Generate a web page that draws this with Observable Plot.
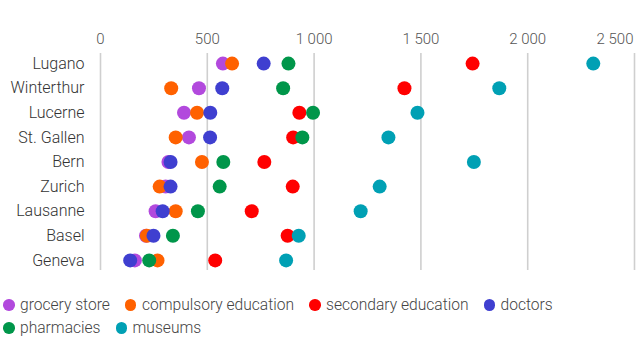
<!DOCTYPE html>
<html>
<head>
<meta charset="utf-8">
<script src="https://cdn.jsdelivr.net/npm/d3@7"></script>
<script src="https://cdn.jsdelivr.net/npm/@observablehq/plot@0.6"></script>
<style>
  html, body { margin: 0; padding: 0; background: #fff; }
  body { width: 638px; height: 338px; overflow: hidden; font-family: Roboto, "Noto Sans", sans-serif; }
  #legend { display: flex; flex-wrap: wrap; width: 620px; padding: 15px 0 0 3px; font-size: 15.6px; font-weight: 300; color: #444; row-gap: 3px; }
  .item { display: flex; align-items: center; margin-right: 15px; height: 20px; }
  .sw { width: 11.5px; height: 11.5px; border-radius: 50%; margin-right: 5.5px; }
</style>
</head>
<body>
<div id="chart"></div>
<div id="legend"></div>
<script>
// Cities, top to bottom
const cities = ["Lugano", "Winterthur", "Lucerne", "St. Gallen", "Bern", "Zurich", "Lausanne", "Basel", "Geneva"];

// Amenity categories (also drawing order) and their colours
const categories = ["grocery store", "compulsory education", "secondary education", "doctors", "pharmacies", "museums"];
const colors = ["#b249dd", "#ff6100", "#ff0000", "#3f3fd0", "#00964a", "#00a0b4"];

// Values per category, in the order of `cities`
const grocery    = [573, 461, 391, 414, 318, 305, 258, 213, 161];
const compulsory = [616, 331, 452, 352, 475, 277, 352, 217, 267];
const secondary  = [1742, 1423, 931, 902, 767, 900, 708, 876, 537];
const doctors    = [764, 570, 514, 513, 328, 328, 291, 248, 139];
const pharmacies = [880, 855, 995, 945, 575, 558, 456, 339, 228];
const museums    = [2307, 1867, 1484, 1348, 1748, 1307, 1218, 928, 869];

const xTicks = [0, 500, 1000, 1500, 2000, 2500];

const series = [grocery, compulsory, secondary, doctors, pharmacies, museums];
const data = categories.flatMap((cat, i) =>
  cities.map((city, j) => ({ city, category: cat, value: series[i][j] }))
);

// thousands separated by a space: 1 000, 2 500
const fmt = d => d3.format(",")(d).replace(/,/g, " ");

const chart = Plot.plot({
  width: 638,
  height: 280,
  marginLeft: 100,
  marginRight: 4,
  marginTop: 53,
  marginBottom: 10,
  style: { fontFamily: "Roboto, 'Noto Sans', sans-serif", fontSize: "15px", color: "#444", background: "#fff" },
  x: { domain: [0, 2500], label: null },
  y: { domain: cities, padding: 0.41, round: false, label: null },
  color: { domain: categories, range: colors },
  marks: [
    Plot.ruleX(xTicks, { stroke: "#cfcfcf", strokeWidth: 1.6 }),
    // last tick label sits inside the right edge
    Plot.axisX(xTicks.slice(0, -1), { anchor: "top", tickSize: 0, tickPadding: 10, tickFormat: fmt, fill: "#555", fontWeight: 300, label: null }),
    Plot.axisX(xTicks.slice(-1), { anchor: "top", tickSize: 0, tickPadding: 10, tickFormat: fmt, fill: "#555", fontWeight: 300, textAnchor: "end", dx: -1, label: null }),
    Plot.axisY({ anchor: "left", tickSize: 0, tickPadding: 16, fill: "#333", fontSize: 16, fontWeight: 300, label: null }),
    Plot.dot(data, { x: "value", y: "city", fill: "category", r: 7, stroke: null })
  ]
});
document.getElementById("chart").appendChild(chart);

// Legend with round swatches
const legend = document.getElementById("legend");
categories.forEach((cat, i) => {
  const item = document.createElement("div");
  item.className = "item";
  const sw = document.createElement("span");
  sw.className = "sw";
  sw.style.background = colors[i];
  const label = document.createElement("span");
  label.textContent = cat;
  item.appendChild(sw);
  item.appendChild(label);
  legend.appendChild(item);
});
</script>
</body>
</html>
